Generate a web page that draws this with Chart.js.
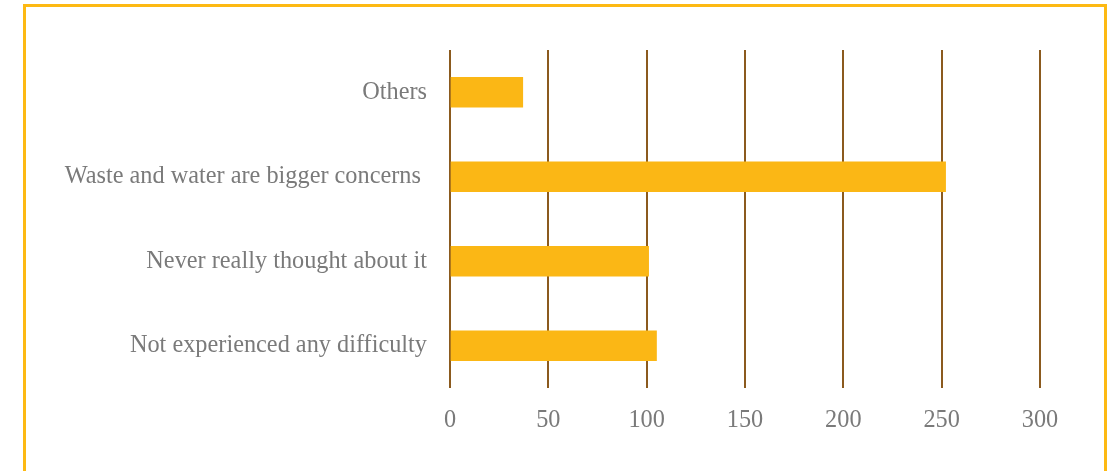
<!DOCTYPE html>
<html>
<head>
<meta charset="utf-8">
<script src="https://cdn.jsdelivr.net/npm/chart.js@4"></script>
<style>
  html, body { margin: 0; padding: 0; background: #ffffff; overflow: hidden; }
  body { width: 1113px; height: 471px; position: relative; }
  #frame { position: absolute; left: 23px; top: 4px; width: 1084px; height: 500px; border: 3px solid #FDB913; box-sizing: border-box; }
  #wrap { position: absolute; left: 0; top: 0; width: 1113px; height: 471px; }
</style>
</head>
<body>
<div id="frame"></div>
<div id="wrap"><canvas id="c" width="1113" height="471"></canvas></div>
<script>
const categories = ["Others", "Waste and water are bigger concerns ", "Never really thought about it", "Not experienced any difficulty"];
const values = [37, 252, 101, 105];
const xTicks = [0, 50, 100, 150, 200, 250, 300];

const fontSpec = { family: "'Liberation Serif', 'DejaVu Serif', serif", size: 24.3, lineHeight: 1.3 };

new Chart(document.getElementById('c'), {
  type: 'bar',
  data: {
    labels: categories,
    datasets: [{
      data: values,
      backgroundColor: '#FBB715',
      borderWidth: 0,
      barThickness: 30
    }]
  },
  options: {
    indexAxis: 'y',
    responsive: false,
    animation: false,
    devicePixelRatio: 1,
    layout: { padding: { top: 50, right: 73, bottom: 0, left: 0 } },
    plugins: { legend: { display: false }, tooltip: { enabled: false } },
    scales: {
      x: {
        min: 0, max: 300,
        afterBuildTicks: s => { s.ticks = xTicks.map(v => ({ value: v })); },
        afterFit: s => { s.height = 83; },
        grid: { color: '#8B5A1E', lineWidth: 2, drawTicks: false },
        border: { display: false },
        ticks: { color: '#7a7a7a', font: fontSpec, padding: 17, maxRotation: 0 }
      },
      y: {
        afterFit: s => { s.width = 450; },
        grid: { display: false, drawTicks: false },
        border: { display: false },
        ticks: { color: '#7a7a7a', font: fontSpec, padding: 23 }
      }
    }
  }
});
</script>
</body>
</html>
